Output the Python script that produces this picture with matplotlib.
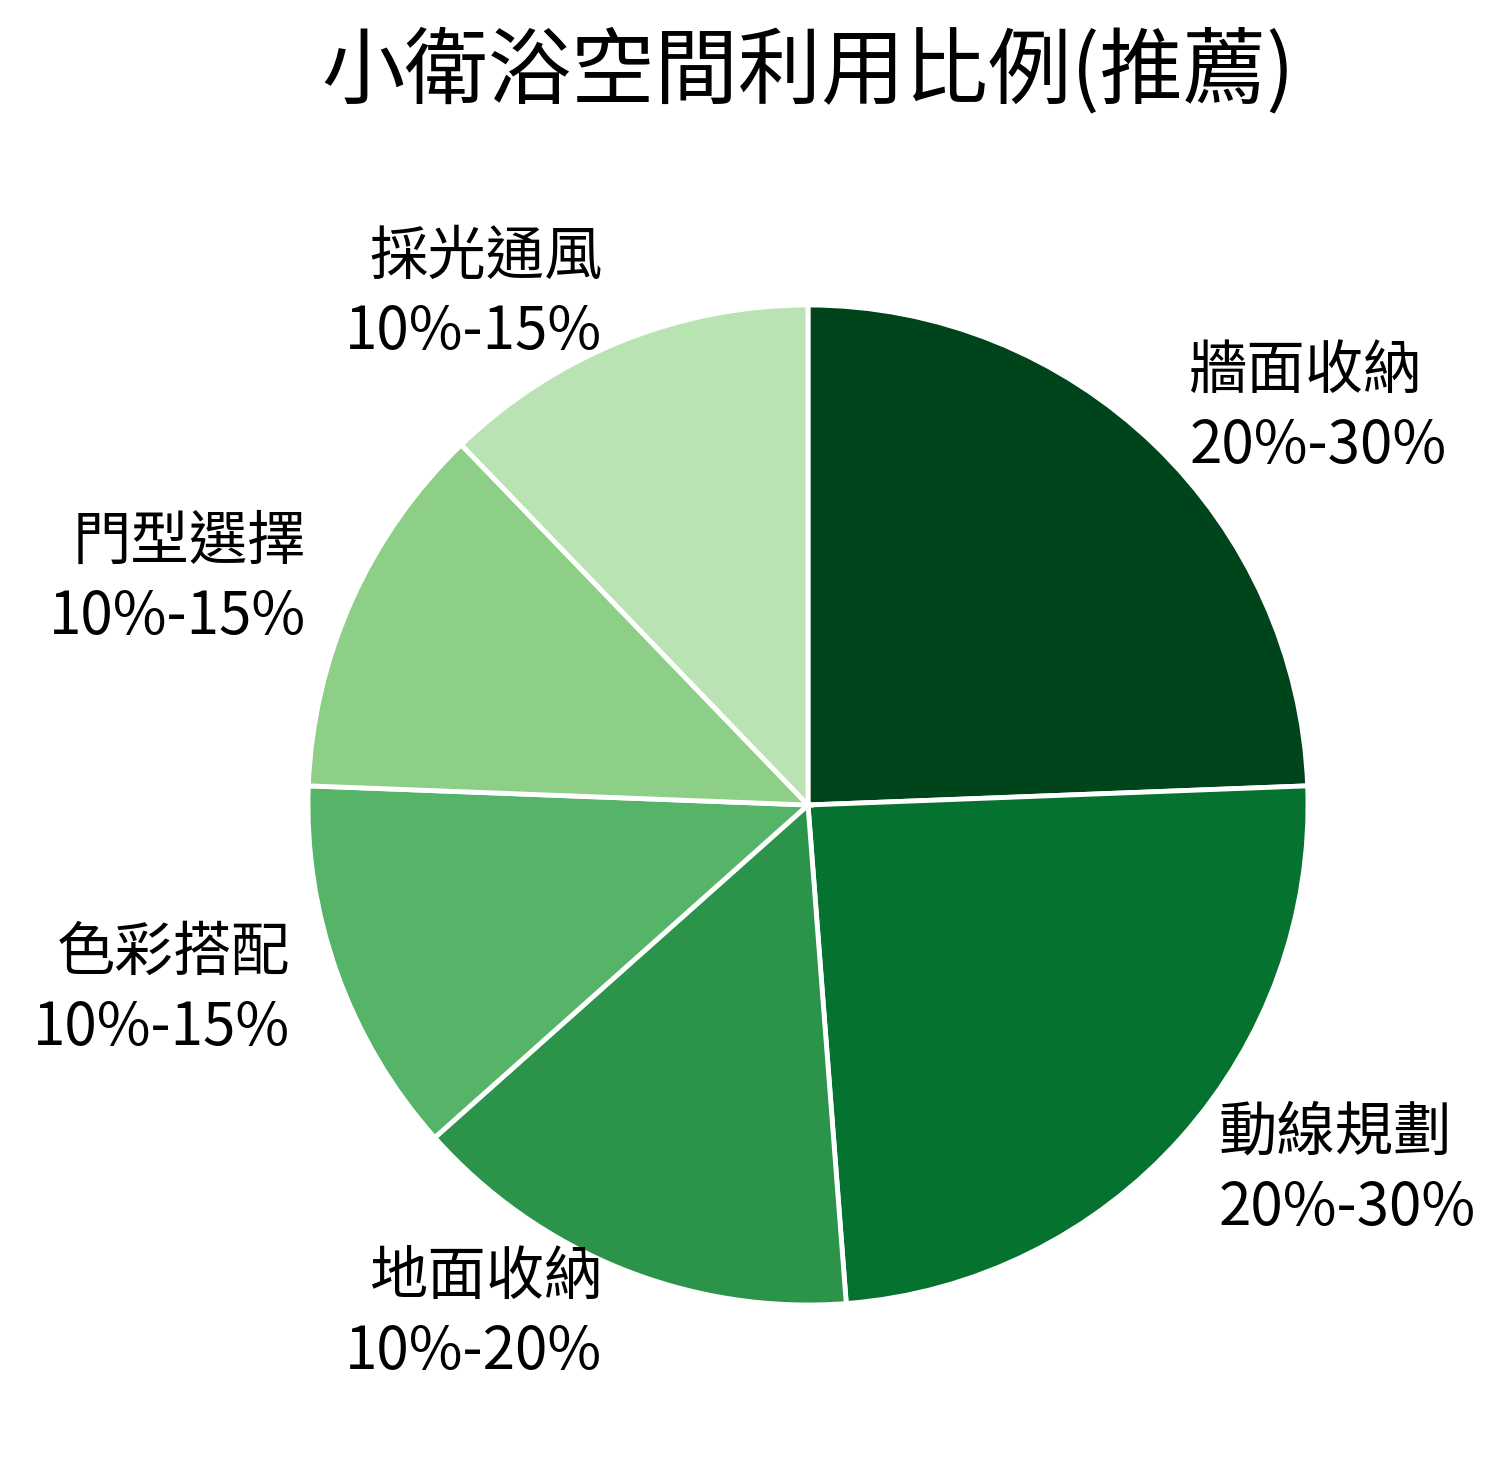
import matplotlib
matplotlib.use("Agg")
import matplotlib.pyplot as plt

plt.rcParams['font.family'] = ['Noto Sans CJK TC', 'DejaVu Sans']

title = '小衛浴空間利用比例(推薦)'
categories = ['牆面收納', '動線規劃', '地面收納', '色彩搭配', '門型選擇', '採光通風']
ranges = ['20%-30%', '20%-30%', '10%-20%', '10%-15%', '10%-15%', '10%-15%']
# midpoint of each recommended range
values = [25, 25, 15, 12.5, 12.5, 12.5]
colors = ['#00441b', '#06722f', '#2c934b', '#55b467', '#8ecf87', '#b9e3b3']

labels = [c + '\n' + r for c, r in zip(categories, ranges)]

W, H = 1507, 1468
fig = plt.figure(figsize=(W / 100, H / 100), dpi=100)
cx, cy, r = 808, 805, 500
ax = fig.add_axes([(cx - r) / W, (H - cy - r) / H, 2 * r / W, 2 * r / H])

wedges, texts = ax.pie(values, labels=labels, colors=colors, startangle=90,
                       counterclock=False, labeldistance=1.1,
                       wedgeprops=dict(edgecolor='white', linewidth=3.5),
                       textprops=dict(fontsize=42))
for t in texts:
    t.set_linespacing(1.3)
ax.set_xlim(-1, 1)
ax.set_ylim(-1, 1)
ax.axis('off')

fig.text(cx / W, 1 - 72 / H, title, ha='center', va='center', fontsize=60)

fig.savefig('out.png', dpi=100, facecolor='white')
